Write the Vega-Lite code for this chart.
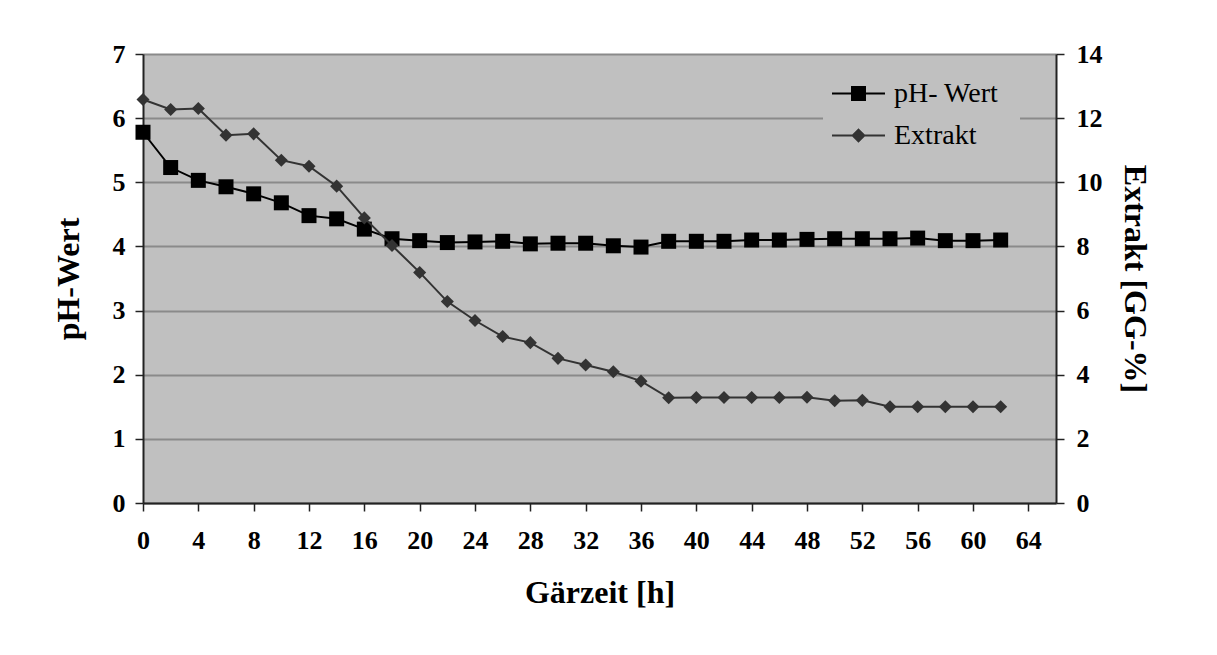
{
  "$schema": "https://vega.github.io/schema/vega-lite/v6.json",
  "autosize": "none",
  "width": 913,
  "height": 449,
  "padding": {"left": 143, "top": 54, "right": 161, "bottom": 152},
  "background": "#ffffff",
  "config": {
    "view": {"fill": "#C0C0C0", "stroke": null},
    "axis": {
      "labelFont": "Liberation Serif",
      "labelFontWeight": "bold",
      "labelFontSize": 26,
      "labelColor": "#000000",
      "titleFont": "Liberation Serif",
      "titleFontWeight": "bold",
      "titleFontSize": 32,
      "titleColor": "#000000",
      "domainColor": "#222222",
      "domainWidth": 2,
      "tickColor": "#222222",
      "tickWidth": 1.5,
      "tickSize": 8,
      "labelFlush": false,
      "labelOverlap": false
    }
  },
  "data": {
    "values": [
      {"t": 0, "series": "pH- Wert", "value": 5.78},
      {"t": 2, "series": "pH- Wert", "value": 5.23},
      {"t": 4, "series": "pH- Wert", "value": 5.03},
      {"t": 6, "series": "pH- Wert", "value": 4.93},
      {"t": 8, "series": "pH- Wert", "value": 4.82},
      {"t": 10, "series": "pH- Wert", "value": 4.68},
      {"t": 12, "series": "pH- Wert", "value": 4.48},
      {"t": 14, "series": "pH- Wert", "value": 4.43},
      {"t": 16, "series": "pH- Wert", "value": 4.27},
      {"t": 18, "series": "pH- Wert", "value": 4.12},
      {"t": 20, "series": "pH- Wert", "value": 4.09},
      {"t": 22, "series": "pH- Wert", "value": 4.06},
      {"t": 24, "series": "pH- Wert", "value": 4.07},
      {"t": 26, "series": "pH- Wert", "value": 4.08},
      {"t": 28, "series": "pH- Wert", "value": 4.04},
      {"t": 30, "series": "pH- Wert", "value": 4.05},
      {"t": 32, "series": "pH- Wert", "value": 4.05},
      {"t": 34, "series": "pH- Wert", "value": 4.01},
      {"t": 36, "series": "pH- Wert", "value": 3.99},
      {"t": 38, "series": "pH- Wert", "value": 4.08},
      {"t": 40, "series": "pH- Wert", "value": 4.08},
      {"t": 42, "series": "pH- Wert", "value": 4.08},
      {"t": 44, "series": "pH- Wert", "value": 4.10},
      {"t": 46, "series": "pH- Wert", "value": 4.10},
      {"t": 48, "series": "pH- Wert", "value": 4.11},
      {"t": 50, "series": "pH- Wert", "value": 4.12},
      {"t": 52, "series": "pH- Wert", "value": 4.12},
      {"t": 54, "series": "pH- Wert", "value": 4.12},
      {"t": 56, "series": "pH- Wert", "value": 4.13},
      {"t": 58, "series": "pH- Wert", "value": 4.09},
      {"t": 60, "series": "pH- Wert", "value": 4.09},
      {"t": 62, "series": "pH- Wert", "value": 4.10},
      {"t": 0, "series": "Extrakt", "value": 12.58},
      {"t": 2, "series": "Extrakt", "value": 12.27},
      {"t": 4, "series": "Extrakt", "value": 12.30},
      {"t": 6, "series": "Extrakt", "value": 11.47},
      {"t": 8, "series": "Extrakt", "value": 11.51},
      {"t": 10, "series": "Extrakt", "value": 10.69},
      {"t": 12, "series": "Extrakt", "value": 10.50},
      {"t": 14, "series": "Extrakt", "value": 9.88},
      {"t": 16, "series": "Extrakt", "value": 8.89},
      {"t": 18, "series": "Extrakt", "value": 8.03},
      {"t": 20, "series": "Extrakt", "value": 7.19},
      {"t": 22, "series": "Extrakt", "value": 6.28},
      {"t": 24, "series": "Extrakt", "value": 5.69},
      {"t": 26, "series": "Extrakt", "value": 5.19},
      {"t": 28, "series": "Extrakt", "value": 5.00},
      {"t": 30, "series": "Extrakt", "value": 4.51},
      {"t": 32, "series": "Extrakt", "value": 4.30},
      {"t": 34, "series": "Extrakt", "value": 4.09},
      {"t": 36, "series": "Extrakt", "value": 3.80},
      {"t": 38, "series": "Extrakt", "value": 3.28},
      {"t": 40, "series": "Extrakt", "value": 3.29},
      {"t": 42, "series": "Extrakt", "value": 3.29},
      {"t": 44, "series": "Extrakt", "value": 3.29},
      {"t": 46, "series": "Extrakt", "value": 3.29},
      {"t": 48, "series": "Extrakt", "value": 3.30},
      {"t": 50, "series": "Extrakt", "value": 3.19},
      {"t": 52, "series": "Extrakt", "value": 3.20},
      {"t": 54, "series": "Extrakt", "value": 3.00},
      {"t": 56, "series": "Extrakt", "value": 3.00},
      {"t": 58, "series": "Extrakt", "value": 3.00},
      {"t": 60, "series": "Extrakt", "value": 3.00},
      {"t": 62, "series": "Extrakt", "value": 3.00}
    ]
  },
  "encoding": {
    "x": {
      "field": "t",
      "type": "quantitative",
      "scale": {"domain": [0, 66], "nice": false, "zero": false},
      "axis": {
        "values": [0, 4, 8, 12, 16, 20, 24, 28, 32, 36, 40, 44, 48, 52, 56, 60, 64],
        "grid": false,
        "title": "Gärzeit [h]",
        "labelPadding": 16,
        "titlePadding": 24
      }
    },
    "color": {
      "field": "series",
      "type": "nominal",
      "scale": {"domain": ["pH- Wert", "Extrakt"], "range": ["#000000", "#333333"]},
      "legend": {
        "orient": "none",
        "legendX": 680,
        "legendY": 4,
        "title": null,
        "padding": 21,
        "fillColor": "#C0C0C0",
        "labelFont": "Liberation Serif",
        "labelFontSize": 28,
        "labelColor": "#000000",
        "labelOffset": 21,
        "symbolSize": 702,
        "symbolStrokeWidth": 2,
        "rowPadding": 13,
        "encode": {
          "symbols": {
            "update": {
              "shape": {"signal": "datum.value === 'pH- Wert' ? 'M-2,0H2M-0.49,-0.49H0.49V0.49H-0.49Z' : 'M-2,0H2M0,-0.44L0.44,0L0,0.44L-0.44,0Z'"},
              "fill": {"signal": "datum.value === 'pH- Wert' ? '#000000' : '#333333'"},
              "stroke": {"signal": "datum.value === 'pH- Wert' ? '#000000' : '#333333'"},
              "opacity": {"value": 1},
              "fillOpacity": {"value": 1},
              "strokeWidth": {"value": 2}
            }
          }
        }
      }
    }
  },
  "layer": [
    {
      "transform": [{"filter": "datum.series === 'pH- Wert'"}],
      "mark": {"type": "line", "strokeWidth": 2, "point": {"shape": "square", "size": 225, "filled": true, "opacity": 1}},
      "encoding": {
        "y": {
          "field": "value",
          "type": "quantitative",
          "scale": {"domain": [0, 7], "nice": false},
          "axis": {
            "orient": "left",
            "values": [0, 1, 2, 3, 4, 5, 6, 7],
            "grid": true,
            "gridColor": "#8a8a8a",
            "gridWidth": 2,
            "title": "pH-Wert",
            "labelPadding": 10,
            "titlePadding": 27
          }
        }
      }
    },
    {
      "transform": [{"filter": "datum.series === 'Extrakt'"}],
      "mark": {"type": "line", "strokeWidth": 2, "point": {"shape": "diamond", "size": 170, "filled": true, "opacity": 1}},
      "encoding": {
        "y": {
          "field": "value",
          "type": "quantitative",
          "scale": {"domain": [0, 14], "nice": false},
          "axis": {
            "orient": "right",
            "values": [0, 2, 4, 6, 8, 10, 12, 14],
            "grid": false,
            "title": "Extrakt [GG-%]",
            "labelPadding": 12,
            "titlePadding": 15
          }
        }
      }
    }
  ],
  "resolve": {"scale": {"y": "independent"}}
}
